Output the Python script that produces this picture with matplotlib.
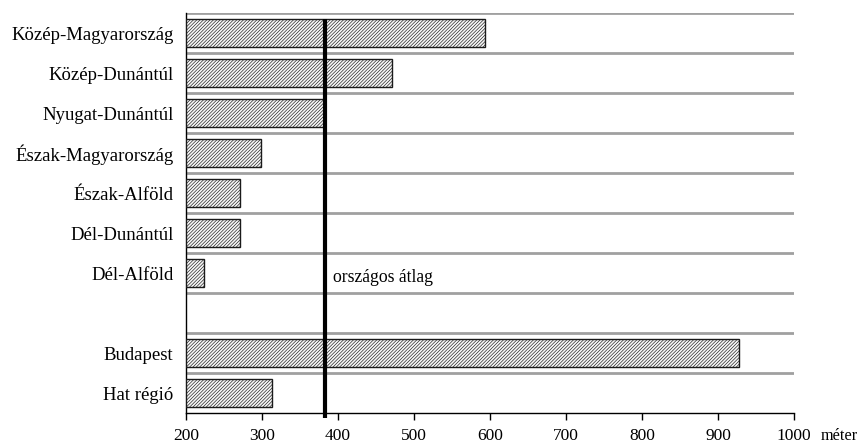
import matplotlib
matplotlib.use("Agg")
import matplotlib.pyplot as plt

categories = ["Közép-Magyarország", "Közép-Dunántúl", "Nyugat-Dunántúl",
              "Észak-Magyarország", "Észak-Alföld", "Dél-Dunántúl", "Dél-Alföld",
              "", "Budapest", "Hat régió"]
values = [593, 471, 381, 299, 271, 271, 224, None, 927, 313]
average = 383
avg_label = "országos átlag"
xticks = [200, 300, 400, 500, 600, 700, 800, 900, 1000]
unit = "méter"

plt.rcParams['font.family'] = ['Liberation Serif', 'DejaVu Serif']
plt.rcParams['hatch.color'] = '#a0a0a0'
plt.rcParams['hatch.linewidth'] = 0.45

fig = plt.figure(figsize=(8.62, 4.45), dpi=100)
ax = fig.add_axes([186/862, 1-413/445, (794-186)/862, 400/445])

n = len(categories)
ys = list(range(n))
for y, v in zip(ys, values):
    if v is None:
        continue
    ax.barh(y, v - 200, left=200, height=0.71, color='#f6f6f6',
            edgecolor='#1a1a1a', linewidth=1.0, hatch='//////////', zorder=3)

for b in [i - 0.5 for i in range(n)]:
    ax.axhline(b, color='#a0a0a0', linewidth=2, zorder=1)

ax.plot([average, average], [-0.35, n - 0.5 + 0.13], color='black',
        linewidth=3.0, zorder=4, clip_on=False, solid_capstyle='butt')
ax.text(average + 11, 6.1, avg_label, fontsize=12.7, va='center', ha='left')

ax.set_xlim(200, 1000)
ax.set_ylim(n - 0.5, -0.5)
ax.set_xticks(xticks)
ax.set_xticklabels([str(t) for t in xticks], fontsize=12.5)
ax.set_yticks(ys)
ax.set_yticklabels(categories, fontsize=13.5)
ax.tick_params(axis='y', length=0, pad=9)
ax.tick_params(axis='x', length=5, width=1, direction='out', pad=6, colors='black')
ax.spines['top'].set_visible(False)
ax.spines['right'].set_visible(False)
ax.spines['left'].set_linewidth(1)
ax.spines['bottom'].set_linewidth(1)
ax.text(821/862, 1-436/445, unit, transform=fig.transFigure, fontsize=11.7,
        va='center', ha='left')

fig.savefig("out.png", dpi=100)
